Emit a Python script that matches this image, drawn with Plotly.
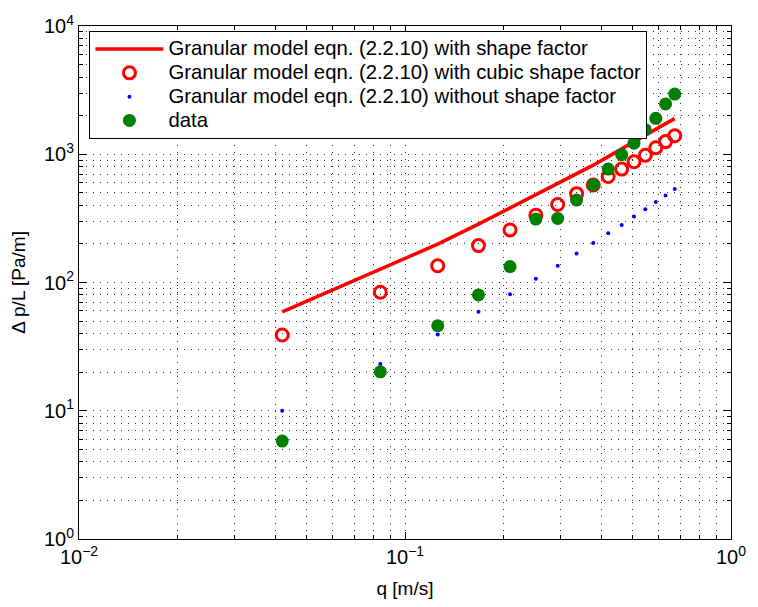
import plotly.graph_objects as go

q = [0.042, 0.084, 0.126, 0.168, 0.210, 0.252, 0.294, 0.336,
     0.378, 0.420, 0.462, 0.504, 0.546, 0.588, 0.630, 0.672]

dp_shape = [59, 127, 199, 285, 380, 480, 585, 700,
            822, 958, 1105, 1256, 1405, 1567, 1733, 1895]
dp_cubic = [39, 84, 135, 194, 257, 335, 406, 493,
            575, 670, 766, 873, 981, 1124, 1255, 1395]
dp_noshape = [10.0, 23.2, 39.4, 59.1, 80.8, 107, 135, 168,
              203, 242, 281, 327, 372, 424, 476, 536]
dp_data = [5.8, 20.1, 46, 80, 133, 312, 316, 439,
           578, 766, 993, 1220, 1552, 1906, 2470, 2946]

labels = ["Granular model eqn. (2.2.10) with shape factor",
          "Granular model eqn. (2.2.10) with cubic shape factor",
          "Granular model eqn. (2.2.10) without shape factor",
          "data"]

x_ticks = [0.01, 0.1, 1]
x_tick_text = ["10<sup>−2</sup>", "10<sup>−1</sup>", "10<sup>0</sup>"]
y_ticks = [1, 10, 100, 1000, 10000]
y_tick_text = ["10<sup>0</sup>", "10<sup>1</sup>", "10<sup>2</sup>", "10<sup>3</sup>", "10<sup>4</sup>"]

x_title = "q [m/s]"
y_title = "Δ p/L [Pa/m]"

FONT = "Liberation Sans, Arial, Helvetica, sans-serif"


def big(s):
    return '<span style="font-size:20.3px">' + s + '</span>'


fig = go.Figure()
fig.add_trace(go.Scatter(x=q, y=dp_shape, mode="lines", name=big(labels[0]),
                         line=dict(color="#FF0000", width=3.5)))
fig.add_trace(go.Scatter(x=q, y=dp_cubic, mode="markers", name=big(labels[1]),
                         marker=dict(symbol="circle-open", size=12, color="#FF0000",
                                     line=dict(color="#FF0000", width=3))))
fig.add_trace(go.Scatter(x=q, y=dp_noshape, mode="markers", name=big(labels[2]),
                         marker=dict(symbol="circle", size=4, color="#0000FF")))
fig.add_trace(go.Scatter(x=q, y=dp_data, mode="markers", name=big(labels[3]),
                         marker=dict(symbol="circle", size=13, color="#008000")))

def minor_vals(lo, hi):
    vals = []
    for e in range(lo, hi):
        for k in range(2, 10):
            vals.append(k * 10 ** e)
    return vals

GRID_DASH = "1px,6px"

common = dict(
    type="log",
    showline=True, linecolor="black", linewidth=1, mirror="allticks",
    ticks="inside", ticklen=7, tickcolor="black", tickwidth=1,
    showgrid=True, gridcolor="#333333", griddash=GRID_DASH, gridwidth=1,
    zeroline=False,
    tickfont=dict(family=FONT, size=20, color="black"),
)

fig.update_xaxes(
    **common,
    range=[-2, 0],
    tickmode="array", tickvals=x_ticks, ticktext=x_tick_text,
    minor=dict(tickmode="array", tickvals=minor_vals(-2, 0), ticks="inside",
               ticklen=4, tickcolor="black", showgrid=True,
               gridcolor="#333333", griddash=GRID_DASH, gridwidth=1),
    title=dict(text=x_title, font=dict(family=FONT, size=19, color="black"), standoff=14),
)
fig.update_yaxes(
    **common,
    range=[0, 4],
    tickmode="array", tickvals=y_ticks, ticktext=y_tick_text,
    minor=dict(tickmode="array", tickvals=minor_vals(0, 4), ticks="inside",
               ticklen=4, tickcolor="black", showgrid=True,
               gridcolor="#333333", griddash=GRID_DASH, gridwidth=1),
)

fig.add_annotation(text=y_title, xref="paper", yref="paper",
                   x=-0.093, y=0.5, xanchor="center", yanchor="middle",
                   textangle=-90, showarrow=False,
                   font=dict(family=FONT, size=19, color="black"))

fig.update_layout(
    width=758, height=607,
    margin=dict(l=79, r=16, t=20, b=65),
    paper_bgcolor="white", plot_bgcolor="white",
    font=dict(family=FONT, size=19, color="black"),
    showlegend=True,
    legend=dict(x=0.016, y=0.99, xanchor="left", yanchor="top",
                bgcolor="white", bordercolor="black", borderwidth=1,
                font=dict(family=FONT, size=16, color="black"),
                tracegroupgap=0, itemsizing="trace", itemwidth=68),
)

fig.write_html("out.html")
